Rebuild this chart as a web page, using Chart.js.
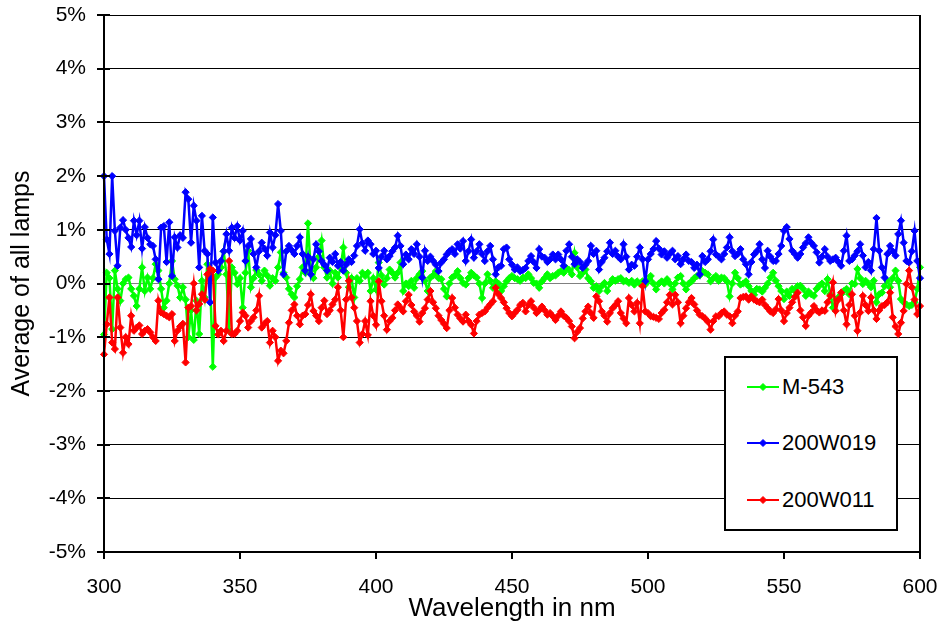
<!DOCTYPE html>
<html>
<head>
<meta charset="utf-8">
<script src="https://cdn.jsdelivr.net/npm/chart.js@4.4.0/dist/chart.umd.min.js"></script>
<style>
html,body{margin:0;padding:0;background:#fff;}
#wrap{position:relative;width:940px;height:629px;}
#legend{position:absolute;left:724px;top:356px;width:170px;height:171px;border:2px solid #000;background:#fff;font-family:"Liberation Sans",Arial,sans-serif;font-size:22px;color:#000;}
.item{position:absolute;left:0;height:24px;line-height:24px;width:170px;}
.item svg{position:absolute;left:21px;top:7px;}
.item span{position:absolute;left:56px;top:0;white-space:nowrap;}
</style>
</head>
<body>
<div id="wrap">
<canvas id="c" width="940" height="629"></canvas>
<div id="legend"></div>
</div>
<script>
// x sampling: one value per nm from 300 to 600 nm
const START_NM = 300;
const STEP_NM = 1;

const seriesNames = ["M-543", "200W019", "200W011"];
const seriesColors = ["#00FF00", "#0000FF", "#FF0000"];

const xTicks = [300, 350, 400, 450, 500, 550, 600];
const yTicks = [-5, -4, -3, -2, -1, 0, 1, 2, 3, 4, 5];

// values in %
const m543 = [
-0.95,0.2,0.1,-0.85,0.24,-0.1,-0.32,0.0,0.08,0.11,
-0.1,-0.23,-0.42,-0.1,0.3,-0.14,0.11,-0.1,0.1,0.36,
0.24,-0.1,-0.45,-0.32,0.0,0.42,0.08,-0.04,-0.26,-0.07,
-0.3,-1.0,-0.5,-1.05,-0.32,-0.94,0.05,-0.26,0.36,0.1,
-1.55,0.11,0.17,0.3,0.6,0.17,-0.88,0.3,0.2,-0.01,
0.1,-0.45,0.2,0.61,-0.07,0.1,0.25,0.17,0.05,0.24,
0.15,-0.04,0.1,0.05,0.3,0.58,0.2,0.11,-0.1,-0.2,
-0.26,-0.05,0.08,0.3,0.2,1.12,0.24,0.1,0.3,0.5,
0.8,0.3,0.11,0.24,0.0,0.2,0.11,0.3,0.67,0.2,
-0.07,0.1,-0.26,0.1,0.05,0.2,0.14,0.2,-0.14,0.1,
-0.11,0.39,0.15,-0.02,0.1,0.26,0.2,0.11,0.2,0.39,
-0.14,0.0,-0.05,0.05,-0.08,0.1,0.17,0.23,0.05,-0.14,
0.11,0.15,0.23,0.1,0.08,-0.1,-0.24,0.0,0.11,0.15,
0.23,0.1,0.01,-0.02,0.1,0.2,0.15,0.11,0.0,-0.27,
0.0,0.17,0.05,-0.08,0.04,0.0,-0.14,-0.05,0.04,0.1,
0.14,0.1,0.08,0.05,0.11,0.1,0.17,0.1,0.01,0.0,
-0.08,0.04,0.1,0.17,0.1,0.14,0.15,0.2,0.23,0.2,
0.29,0.25,0.17,0.57,0.3,0.14,0.2,0.26,0.1,0.04,
-0.08,-0.05,-0.14,-0.05,0.01,-0.14,0.0,0.08,0.05,0.08,
0.1,0.04,0.05,0.01,0.05,-0.02,0.04,0.0,0.04,-0.02,
0.05,0.14,0.0,-0.11,0.0,0.04,0.0,0.08,0.0,-0.11,
0.0,0.11,0.14,0.0,-0.11,0.0,0.04,0.1,0.14,0.15,
0.23,0.2,0.17,0.04,0.1,0.14,0.05,0.11,0.1,0.04,
-0.24,0.0,0.2,0.1,-0.02,0.0,0.04,-0.05,-0.14,-0.21,
-0.1,-0.11,-0.15,-0.08,0.0,0.11,0.2,0.05,-0.05,-0.14,
-0.29,-0.15,-0.23,-0.1,-0.14,-0.05,-0.04,-0.1,-0.23,-0.15,
-0.2,-0.23,-0.1,-0.04,0.0,-0.14,0.08,-0.2,-0.45,-0.3,
-0.26,-0.2,-0.14,-0.1,-0.2,0.0,-0.01,0.27,0.1,-0.01,
0.05,0.0,-0.07,0.05,-0.35,-0.2,-0.17,-0.05,0.05,-0.07,
0.1,0.24,0.05,-0.29,-0.35,-0.39,-0.42,-0.4,-0.35,-0.1,
0.3
];

const w019 = [
2.0,0.82,0.55,2.0,0.98,0.33,1.04,1.18,1.0,0.85,
0.68,1.17,0.9,1.17,0.65,1.05,0.85,0.73,0.7,0.45,
0.08,1.04,1.07,0.4,1.14,0.14,0.86,0.67,0.9,0.85,
1.7,1.57,0.76,1.45,1.17,0.3,1.26,0.61,0.55,-0.35,
1.23,0.39,0.24,0.42,0.6,0.92,0.61,1.04,0.85,1.07,
0.8,0.98,0.42,0.7,0.83,0.55,0.3,0.6,0.76,0.65,
0.52,0.95,0.67,0.9,1.48,0.98,0.17,0.6,0.7,0.62,
0.55,0.7,0.86,0.55,0.24,0.5,0.17,0.45,0.73,0.6,
0.42,0.35,0.24,0.48,0.4,0.55,0.33,0.4,0.24,0.35,
0.45,0.4,0.52,0.7,1.01,0.75,0.61,0.8,0.73,0.55,
0.61,0.29,0.5,0.61,0.45,0.51,0.6,0.67,0.89,0.7,
0.36,0.54,0.45,0.64,0.55,0.73,0.5,0.11,0.61,0.42,
0.5,0.42,0.35,0.23,0.39,0.45,0.54,0.6,0.64,0.55,
0.73,0.65,0.79,0.42,0.6,0.82,0.48,0.6,0.73,0.55,
0.42,0.6,0.7,0.45,0.17,0.3,0.33,0.64,0.67,0.45,
0.35,0.26,0.3,0.23,0.25,0.29,0.42,0.51,0.4,0.29,
0.64,0.5,0.48,0.4,0.45,0.54,0.45,0.54,0.45,0.33,
0.61,0.73,0.5,0.36,0.45,0.4,0.29,0.35,0.42,0.7,
0.55,0.61,0.26,0.4,0.48,0.6,0.76,0.55,0.61,0.5,
0.45,0.73,0.5,0.26,0.35,0.33,0.5,0.67,0.45,0.04,
0.45,0.55,0.64,0.79,0.65,0.54,0.6,0.48,0.55,0.61,
0.45,0.51,0.36,0.45,0.54,0.42,0.4,0.29,0.35,0.17,
0.51,0.4,0.45,0.6,0.82,0.54,0.5,0.45,0.55,0.67,
0.86,0.6,0.51,0.55,0.64,0.45,0.36,0.17,0.4,0.54,
0.6,0.73,0.45,0.29,0.61,0.5,0.42,0.42,0.55,0.7,
0.98,1.05,0.83,0.61,0.55,0.48,0.55,0.67,0.75,0.86,
0.76,0.7,0.58,0.39,0.5,0.64,0.5,0.42,0.45,0.48,
0.4,0.33,0.61,0.89,0.42,0.45,0.52,0.6,0.73,0.52,
0.3,0.4,0.24,0.64,1.22,0.61,0.3,0.11,0.55,0.7,
0.6,0.52,0.92,1.17,0.76,0.42,0.39,0.6,0.98,0.42,
0.1
];

const w011 = [
-1.32,-0.76,-0.26,-1.1,-1.22,-0.26,-0.82,-1.29,-1.0,-1.13,
-0.6,-0.88,-0.82,-0.78,-0.94,-0.88,-0.85,-0.91,-1.0,-1.07,
-0.32,-0.54,-0.57,-0.6,-0.63,-0.57,-1.07,-0.88,-0.8,-0.75,
-1.47,-0.45,-0.42,0.0,-0.5,-0.38,-0.2,-0.3,0.17,0.27,
0.24,-0.79,-0.95,-0.88,-1.07,-0.88,0.42,-0.94,-0.94,-0.88,
-0.7,-0.54,-0.6,-0.82,-0.7,-0.63,-0.5,-0.23,-0.82,-0.75,
-0.7,-1.1,-0.88,-1.0,-1.44,-1.25,-1.3,-1.07,-0.73,-0.5,
-0.39,-0.6,-0.76,-0.6,-0.57,-0.4,-0.2,-0.51,-0.6,-0.7,
-0.45,-0.32,-0.57,-0.5,-0.39,-0.3,-0.07,-0.5,-1.0,-0.3,
0.05,-0.26,-0.45,-0.7,-1.1,-0.94,-0.7,-0.96,-0.33,-0.6,
-0.77,0.04,-0.33,-0.6,-0.86,-0.7,-0.64,-0.5,-0.39,-0.45,
-0.52,-0.33,-0.21,-0.4,-0.52,-0.6,-0.71,-0.55,-0.46,-0.3,
-0.14,-0.35,-0.46,-0.6,-0.68,-0.75,-0.83,-0.5,-0.27,-0.45,
-0.58,-0.65,-0.71,-0.58,-0.7,-0.77,-0.93,-0.7,-0.58,-0.55,
-0.52,-0.45,-0.39,-0.33,-0.08,-0.2,-0.27,-0.35,-0.46,-0.55,
-0.61,-0.55,-0.49,-0.4,-0.36,-0.52,-0.4,-0.33,-0.45,-0.55,
-0.5,-0.43,-0.5,-0.58,-0.55,-0.61,-0.68,-0.6,-0.52,-0.6,
-0.64,-0.7,-0.8,-1.02,-0.9,-0.83,-0.65,-0.52,-0.43,-0.55,
-0.64,-0.24,-0.33,-0.52,-0.6,-0.71,-0.55,-0.46,-0.4,-0.33,
-0.55,-0.65,-0.74,-0.27,-0.4,-0.52,-0.36,-0.74,-0.05,-0.52,
-0.55,-0.61,-0.62,-0.64,-0.66,-0.55,-0.49,-0.35,-0.21,-0.39,
-0.21,-0.35,-0.74,-0.6,-0.46,-0.35,-0.27,-0.39,-0.5,-0.58,
-0.61,-0.65,-0.71,-0.86,-0.7,-0.61,-0.61,-0.55,-0.52,-0.58,
-0.61,-0.74,-0.6,-0.52,-0.27,-0.25,-0.24,-0.3,-0.24,-0.3,
-0.33,-0.35,-0.3,-0.4,-0.46,-0.52,-0.55,-0.48,-0.29,-0.5,
-0.7,-0.55,-0.45,-0.35,-0.25,-0.17,-0.5,-0.63,-0.79,-0.6,
-0.54,-0.42,-0.5,-0.54,-0.5,-0.51,-0.35,-0.23,0.02,-0.51,
-0.3,-0.17,-0.5,-0.76,-0.4,-0.2,-0.6,-0.88,-0.54,-0.23,
-0.4,-0.51,-0.26,-0.5,-0.66,-0.5,-0.42,-0.4,-0.35,-0.17,
-0.63,-0.8,-0.94,-0.73,-0.51,-0.01,0.24,-0.07,-0.3,-0.57,
-0.42
];

const seriesValues = [m543, w019, w011];

const FONT = '"Liberation Sans", Arial, sans-serif';
Chart.defaults.font.family = FONT;
Chart.defaults.color = '#000';

function toPoints(vals) {
  return vals.map((v, i) => ({ x: START_NM + i * STEP_NM, y: v }));
}

const datasets = seriesValues.map((vals, i) => ({
  label: seriesNames[i],
  data: toPoints(vals),
  borderColor: seriesColors[i],
  backgroundColor: seriesColors[i],
  borderWidth: 2.5,
  pointStyle: 'rectRot',
  pointRadius: 3.6,
  pointBorderWidth: 1,
  pointBorderColor: seriesColors[i],
  pointBackgroundColor: seriesColors[i],
  tension: 0,
  clip: false,
  order: seriesValues.length - i
}));

const axisPlugin = {
  id: 'axisDeco',
  afterDraw(chart) {
    const { ctx, chartArea: ca, scales } = chart;
    ctx.save();
    ctx.strokeStyle = '#000';
    ctx.lineWidth = 2;
    ctx.beginPath();
    ctx.moveTo(ca.right, ca.top);
    ctx.lineTo(ca.right, ca.bottom);
    ctx.stroke();
    ctx.beginPath();
    ctx.moveTo(ca.left, ca.top);
    ctx.lineTo(ca.left, ca.bottom);
    ctx.moveTo(ca.left, ca.bottom);
    ctx.lineTo(ca.right, ca.bottom);
    ctx.stroke();
    ctx.beginPath();
    yTicks.forEach(v => {
      const y = Math.round(scales.y.getPixelForValue(v));
      ctx.moveTo(ca.left - 7, y);
      ctx.lineTo(ca.left + 6, y);
    });
    xTicks.forEach(v => {
      const x = Math.round(scales.x.getPixelForValue(v));
      ctx.moveTo(x, ca.bottom);
      ctx.lineTo(x, ca.bottom + 7);
    });
    ctx.stroke();
    ctx.restore();
  }
};

function noScalePadding(s) {
  s.paddingTop = 0; s.paddingBottom = 0; s.paddingLeft = 0; s.paddingRight = 0;
}

new Chart(document.getElementById('c'), {
  type: 'line',
  data: { datasets },
  options: {
    responsive: false,
    animation: false,
    devicePixelRatio: 1,
    layout: { padding: { left: 0, right: 20, top: 15, bottom: 0 } },
    plugins: { legend: { display: false }, tooltip: { enabled: false } },
    scales: {
      x: {
        type: 'linear',
        min: 300, max: 600,
        afterBuildTicks(s) { s.ticks = xTicks.map(v => ({ value: v })); },
        ticks: { font: { size: 21 }, color: '#000', padding: 23, maxRotation: 0 },
        grid: { display: false, drawTicks: false },
        border: { display: false },
        title: { display: true, text: 'Wavelength in nm', font: { size: 26 }, color: '#000', padding: { top: 0, bottom: 5 } },
        afterFit(s) { s.height = 77; noScalePadding(s); }
      },
      y: {
        min: -5, max: 5,
        afterBuildTicks(s) { s.ticks = yTicks.map(v => ({ value: v })); },
        ticks: { font: { size: 21 }, color: '#000', padding: 18, callback: v => v + '%' },
        grid: { drawTicks: false, lineWidth: 1, color: ctx => (ctx.tick && ctx.tick.value === 0) ? '#808080' : '#000' },
        border: { display: false },
        title: { display: true, text: 'Average of all lamps', font: { size: 25 }, color: '#000', padding: { top: 7, bottom: 0 } },
        afterFit(s) { s.width = 104; noScalePadding(s); }
      }
    }
  },
  plugins: [axisPlugin]
});

const legendTops = [17, 73, 130];
const legendEl = document.getElementById('legend');
seriesNames.forEach((name, i) => {
  const item = document.createElement('div');
  item.className = 'item';
  item.style.top = legendTops[i] + 'px';
  const c = seriesColors[i];
  item.innerHTML = '<svg width="32" height="10" viewBox="0 0 32 10"><line x1="0" y1="5" x2="32" y2="5" stroke="' + c + '" stroke-width="2"/><polygon points="16,1.5 19.5,5 16,8.5 12.5,5" fill="' + c + '" stroke="' + c + '" stroke-width="1"/></svg><span>' + name + '</span>';
  legendEl.appendChild(item);
});
</script>
</body>
</html>
